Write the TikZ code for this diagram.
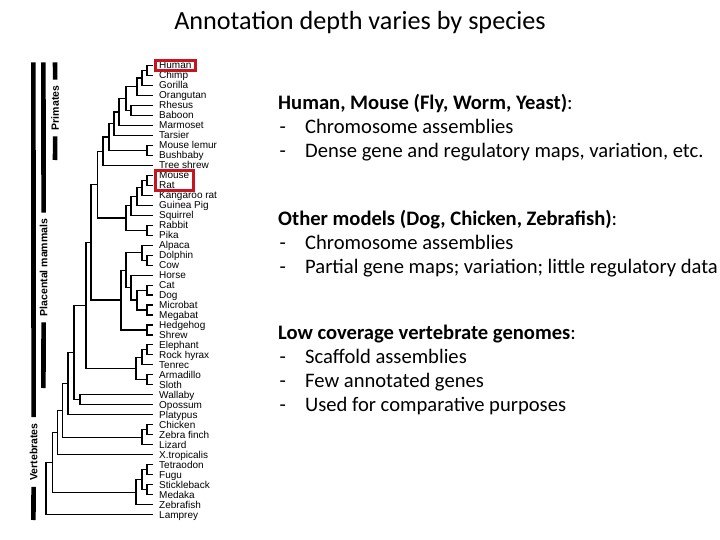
\documentclass[tikz,border=0pt]{standalone}
\usepackage{fontspec}
\setmainfont{Carlito}
\newfontfamily\arialfont{Liberation Sans}
\usetikzlibrary{calc,fit}
\definecolor{boxred}{RGB}{200,20,30}

\tikzset{
  leaf/.style={anchor=west, inner sep=0pt, text height=7pt, text depth=0pt,
    font=\arialfont\fontsize{10}{12}\selectfont},
  branch/.style={line width=1.1pt},
  bar/.style={line width=4.6pt},
  barlabel/.style={rotate=90, inner xsep=6pt, inner ysep=0pt,
    font=\arialfont\bfseries\fontsize{10.5}{12}\selectfont},
  redbox/.style={draw=boxred, line width=3pt, inner xsep=3.6pt, inner ysep=1.2pt},
  % anchored at the baseline of the last line
  block/.style={anchor=base west, inner sep=0pt, align=left,
    font=\fontsize{20.6}{24}\selectfont}
}

% bracket from two children to a new node at x = #2
\newcommand{\clade}[4]{%
  \draw[branch] (#3) -- (#2,0 |- #3) -- (#2,0 |- #4) -- (#4);
  \coordinate (#1) at ($(#2,0 |- #3)!.5!(#2,0 |- #4)$);
}
\newcommand{\itemdash}{\makebox[27pt][l]{\hspace{1.5pt}-}}

\begin{document}
\begin{tikzpicture}[x=1pt,y=-1pt]
\useasboundingbox (0,0) rectangle (720,540);

\node[anchor=base, font=\fontsize{26.2}{30}\selectfont] (title) at (360,30) {Annotation depth varies by species};

% species
\foreach \sp [count=\i] in {Human,Chimp,Gorilla,Orangutan,Rhesus,Baboon,Marmoset,
  Tarsier,Mouse lemur,Bushbaby,Tree shrew,Mouse,Rat,Kangaroo rat,Guinea Pig,
  Squirrel,Rabbit,Pika,Alpaca,Dolphin,Cow,Horse,Cat,Dog,Microbat,Megabat,
  Hedgehog,Shrew,Elephant,Rock hyrax,Tenrec,Armadillo,Sloth,Wallaby,Opossum,
  Platypus,Chicken,Zebra finch,Lizard,X.tropicalis,Tetraodon,Fugu,Stickleback,
  Medaka,Zebrafish,Lamprey} {
  \node[leaf] (s\i) at (159,{65.5+9.98*(\i-1)}) {\sp};
  \coordinate (t\i) at (153,{65.5+9.98*(\i-1)});
}

% primates
\clade{hc}{147}{t1}{t2}
\clade{hcg}{142}{hc}{t3}
\clade{hom}{137}{hcg}{t4}
\clade{owm}{131}{t5}{t6}
\clade{cat}{126}{hom}{owm}
\clade{ant}{119}{cat}{t7}
\clade{hap}{114}{ant}{t8}
\clade{str}{147}{t9}{t10}
\clade{pri}{109}{hap}{str}
\clade{euar}{103}{pri}{t11}
% glires
\clade{mr}{147}{t12}{t13}
\clade{mrk}{142}{mr}{t14}
\clade{mrkg}{137}{mrk}{t15}
\clade{rod}{131}{mrkg}{t16}
\clade{lag}{147}{t17}{t18}
\clade{gli}{126}{rod}{lag}
\clade{eag}{97.7}{euar}{gli}
% laurasiatheria
\clade{dc}{147}{t20}{t21}
\clade{cet}{142}{t19}{dc}
\clade{car}{147}{t23}{t24}
\clade{bat}{147}{t25}{t26}
\clade{cb}{137}{car}{bat}
\clade{fer}{131}{t22}{cb}
\clade{scr}{126}{cet}{fer}
\clade{eul}{147}{t27}{t28}
\clade{lau}{121}{scr}{eul}
\clade{bor}{91}{eag}{lau}
% afrotheria, xenarthra
\clade{afp}{147}{t29}{t30}
\clade{afr}{142}{afp}{t31}
\clade{xen}{147}{t32}{t33}
\clade{atl}{136}{afr}{xen}
\clade{plc}{86}{bor}{atl}
% other mammals
\clade{mar}{80}{t34}{t35}
\clade{the}{74}{plc}{mar}
\clade{mam}{68}{the}{t36}
% rest of vertebrates
\clade{bir}{147}{t37}{t38}
\clade{sau}{142}{bir}{t39}
\clade{amn}{62.7}{mam}{sau}
\clade{tet}{57.5}{amn}{t40}
\clade{tf}{147}{t41}{t42}
\clade{sm}{147}{t43}{t44}
\clade{per}{142}{tf}{sm}
\clade{tel}{136}{per}{t45}
\clade{gna}{52.3}{tet}{tel}
\clade{ver}{46}{gna}{t46}

% highlighted species
\node[redbox, fit=(s1)] (humanbox) {};
\node[redbox, fit=(s12)(s13)] (rodentbox) {};

% group bars
\coordinate (vtop) at (33.4,62.3);
\coordinate (vbot) at (33.4,520);
\node[barlabel] (vlab) at (33.6,452) {Vertebrates};
\draw[bar] (vtop) -- (vlab.east);
\draw[bar] (vlab.west) -- (vbot);

\coordinate (ptop) at (43.4,62.3);
\coordinate (pbot) at (43.4,388);
\node[barlabel] (plab) at (43.6,267.5) {Placental mammals};
\draw[bar] (ptop) -- (plab.east);
\draw[bar] (plab.west) -- (pbot);

\coordinate (rtop) at (55,62.3);
\coordinate (rbot) at (55,160);
\node[barlabel] (rlab) at (55.2,108) {Primates};
\draw[bar] (rtop) -- (rlab.east);
\draw[bar] (rlab.west) -- (rbot);

% notes
\node[block] (deep) at (278,157.5) {\textbf{Human, Mouse (Fly, Worm, Yeast)}:\\
  \itemdash Chromosome assemblies\\
  \itemdash Dense gene and regulatory maps, variation, etc.};
\node[block] (models) at (278,273.5) {\textbf{Other models (Dog, Chicken, Zebrafish)}:\\
  \itemdash Chromosome assemblies\\
  \itemdash Partial gene maps; variation; little regulatory data};
\node[block] (lowcov) at (278,411.5) {\textbf{Low coverage vertebrate genomes}:\\
  \itemdash Scaffold assemblies\\
  \itemdash Few annotated genes\\
  \itemdash Used for comparative purposes};
\end{tikzpicture}
\end{document}
